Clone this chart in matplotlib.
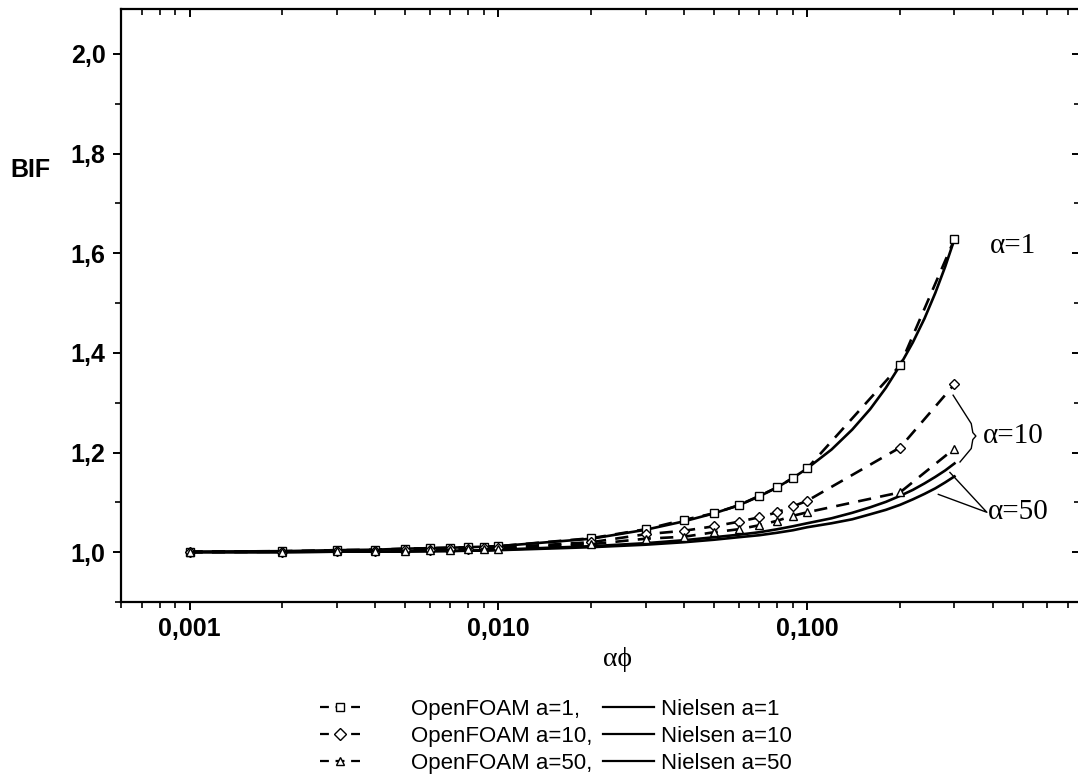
import matplotlib
matplotlib.use("Agg")
import matplotlib.pyplot as plt
from matplotlib.lines import Line2D
from matplotlib.ticker import FixedLocator, NullFormatter, LogLocator

# ---------------- data ----------------
x_of = [0.001, 0.002, 0.003, 0.004, 0.005, 0.006, 0.007, 0.008, 0.009, 0.010,
        0.02, 0.03, 0.04, 0.05, 0.06, 0.07, 0.08, 0.09, 0.10, 0.20, 0.30]
of_a1 = [1.001, 1.002, 1.004, 1.005, 1.007, 1.008, 1.009, 1.010, 1.011, 1.012,
         1.028, 1.046, 1.065, 1.078, 1.094, 1.113, 1.130, 1.149, 1.168, 1.375, 1.628]
of_a10 = [1.000, 1.001, 1.002, 1.003, 1.004, 1.005, 1.006, 1.007, 1.008, 1.009,
          1.020, 1.036, 1.043, 1.052, 1.061, 1.070, 1.080, 1.092, 1.103, 1.210, 1.337]
of_a50 = [1.000, 1.001, 1.002, 1.003, 1.003, 1.004, 1.005, 1.006, 1.006, 1.007,
          1.016, 1.027, 1.031, 1.040, 1.046, 1.054, 1.063, 1.073, 1.080, 1.120, 1.208]

x_ni = [0.001, 0.002, 0.003, 0.004, 0.005, 0.006, 0.007, 0.008, 0.009, 0.010,
        0.02, 0.03, 0.04, 0.05, 0.06, 0.07, 0.08, 0.09, 0.10,
        0.12, 0.14, 0.16, 0.18, 0.20, 0.22, 0.24, 0.26, 0.28, 0.30]
ni_a1 = [1.001, 1.002, 1.004, 1.005, 1.007, 1.008, 1.009, 1.010, 1.011, 1.012,
         1.027, 1.045, 1.062, 1.078, 1.094, 1.112, 1.130, 1.149, 1.168,
         1.206, 1.246, 1.287, 1.330, 1.375, 1.421, 1.469, 1.520, 1.573, 1.628]
ni_a10 = [1.000, 1.000, 1.001, 1.001, 1.002, 1.002, 1.003, 1.003, 1.004, 1.005,
          1.012, 1.018, 1.024, 1.030, 1.035, 1.040, 1.046, 1.052, 1.058,
          1.068, 1.079, 1.090, 1.101, 1.113, 1.125, 1.138, 1.151, 1.164, 1.178]
ni_a50 = [1.000, 1.000, 1.001, 1.001, 1.001, 1.002, 1.002, 1.003, 1.003, 1.004,
          1.010, 1.015, 1.020, 1.025, 1.030, 1.034, 1.039, 1.044, 1.050,
          1.058, 1.066, 1.076, 1.085, 1.095, 1.106, 1.117, 1.128, 1.140, 1.152]

x_ticks = [0.001, 0.01, 0.1]
x_ticklabels = ["0,001", "0,010", "0,100"]
y_ticks = [1.0, 1.2, 1.4, 1.6, 1.8, 2.0]
y_ticklabels = ["1,0", "1,2", "1,4", "1,6", "1,8", "2,0"]

of_labels = ["OpenFOAM a=1,", "OpenFOAM a=10,", "OpenFOAM a=50,"]
ni_labels = ["Nielsen a=1", "Nielsen a=10", "Nielsen a=50"]

# ---------------- figure ----------------
W, H = 1078, 778
fig = plt.figure(figsize=(W / 100, H / 100), dpi=100)
ax = fig.add_axes([121 / W, 1 - 602 / H, (1080 - 121) / W, (602 - 9) / H])

sans = ["Liberation Sans", "DejaVu Sans"]
serif = ["Liberation Serif", "DejaVu Serif"]

lw = 1.9
dash = (0, (5, 3.5))
mk = dict(markersize=6.0, markerfacecolor="white", markeredgecolor="black", markeredgewidth=1.0)

ax.plot(x_ni, ni_a1, color="black", lw=lw, zorder=3)
ax.plot(x_ni, ni_a10, color="black", lw=lw, zorder=3)
ax.plot(x_ni, ni_a50, color="black", lw=lw, zorder=3)
ax.plot(x_of, of_a1, color="black", lw=lw, linestyle=dash, marker="s", **mk, zorder=4)
ax.plot(x_of, of_a10, color="black", lw=lw, linestyle=dash, marker="D", **{**mk, "markersize": 5.5}, zorder=4)
ax.plot(x_of, of_a50, color="black", lw=lw, linestyle=dash, marker="^", **mk, zorder=4)

ax.set_xscale("log")
ax.set_xlim(0.0006, 0.765)
ax.set_ylim(0.9, 2.09)

ax.xaxis.set_major_locator(FixedLocator(x_ticks))
ax.set_xticklabels(x_ticklabels)
ax.xaxis.set_minor_locator(LogLocator(base=10, subs=range(2, 10), numticks=20))
ax.xaxis.set_minor_formatter(NullFormatter())
ax.yaxis.set_major_locator(FixedLocator(y_ticks))
ax.set_yticklabels(y_ticklabels)
ax.yaxis.set_minor_locator(FixedLocator([0.9, 1.1, 1.3, 1.5, 1.7, 1.9]))

for lab in ax.get_xticklabels() + ax.get_yticklabels():
    lab.set_fontfamily(sans)
    lab.set_fontweight("bold")
    lab.set_fontsize(18)

for s in ax.spines.values():
    s.set_linewidth(1.6)

ax.tick_params(axis="both", which="major", direction="out", length=6, width=1.4, pad=5)
ax.tick_params(axis="both", which="minor", direction="out", length=4, width=1.2)
ax.tick_params(axis="x", which="both", top=True)
ax.tick_params(axis="y", which="both", right=True)
for t in ax.xaxis.get_major_ticks() + ax.xaxis.get_minor_ticks():
    t.tick2line.set_marker(matplotlib.lines.TICKDOWN)
for t in ax.yaxis.get_major_ticks() + ax.yaxis.get_minor_ticks():
    t.tick2line.set_marker(matplotlib.lines.TICKLEFT)

# axis labels
fig.text(30 / W, 1 - 170 / H, "BIF", ha="center", va="center",
         fontfamily=sans, fontweight="bold", fontsize=18)
fig.text(617 / W, 1 - 660 / H, "αϕ", ha="center", va="center",
         fontfamily=serif, fontsize=20)

# curve annotations
ax.text(0.390, 1.614, "α=1", fontfamily=serif, fontsize=21, va="center", ha="left")
ax.text(0.372, 1.233, "α=10", fontfamily=serif, fontsize=21, va="center", ha="left")
ax.text(0.385, 1.08, "α=50", fontfamily=serif, fontsize=21, va="center", ha="left")

# bracket for alpha=10
ax.plot([0.297, 0.340, 0.344, 0.352, 0.344, 0.340, 0.3127],
        [1.315, 1.258, 1.240, 1.233, 1.226, 1.208, 1.181], color="black", lw=1.0)
# pointer lines for alpha=50
ax.plot([0.290, 0.382, 0.266], [1.160, 1.080, 1.116], color="black", lw=1.0)

# legends
fs = 16
h_of = [Line2D([], [], color="black", lw=1.6, linestyle=(0, (4, 3)), marker=m,
               markersize=6, markerfacecolor="white", markeredgecolor="black")
        for m in ["s", "D", "^"]]
h_ni = [Line2D([], [], color="black", lw=1.6) for _ in range(3)]

leg1 = fig.legend(h_of, of_labels, loc="upper left", bbox_to_anchor=(320 / W, 1 - 699 / H),
                  frameon=False, prop={"family": sans, "size": fs}, handlelength=1.8,
                  handletextpad=2.3, labelspacing=0.26, borderpad=0, borderaxespad=0)
leg2 = fig.legend(h_ni, ni_labels, loc="upper left", bbox_to_anchor=(603 / W, 1 - 699 / H),
                  frameon=False, prop={"family": sans, "size": fs}, handlelength=2.3,
                  handletextpad=0.3, labelspacing=0.26, borderpad=0, borderaxespad=0)

fig.savefig("out.png", dpi=100)
